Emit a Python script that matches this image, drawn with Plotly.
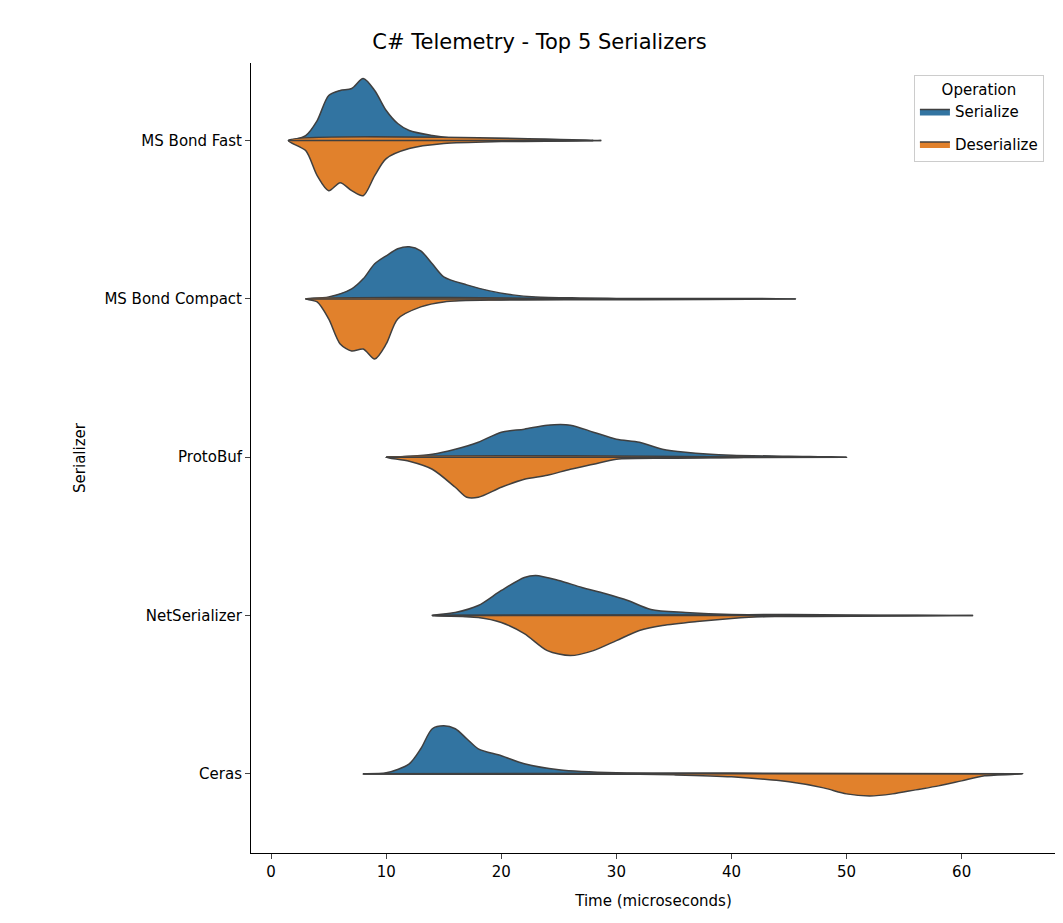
import plotly.graph_objects as go

categories = ["MS Bond Fast", "MS Bond Compact", "ProtoBuf", "NetSerializer", "Ceras"]
# density half-widths (in pixels at 158 px per category)
ser_x = [
    [1.5, 2, 3, 4, 5, 6, 7, 8, 9, 10, 11, 12, 14, 16, 20, 25, 28.7],
    [3, 5, 7, 8, 9, 10, 11, 12, 13, 14, 15, 17, 19, 21, 23, 27, 30, 40, 45.6],
    [10, 12, 14, 16, 18, 20, 22, 24, 26, 28, 30, 32, 34, 36, 40, 45, 50],
    [14, 16, 18, 20, 22, 23, 25, 27, 29, 31, 33, 36, 40, 45, 50, 61],
    [8, 10, 12, 13, 14, 15, 16, 17, 18, 20, 22, 25, 30, 40, 44],
]
ser_h = [
    [0, 1, 5, 20, 45, 50, 52, 62, 50, 30, 17, 10, 5, 2, 1, 0.5, 0],
    [0, 2, 10, 20, 35, 43, 50, 52, 48, 35, 22, 14, 8, 4, 2, 1, 0.5, 0.5, 0],
    [0, 1, 3, 8, 15, 25, 28, 32, 32, 25, 18, 15, 8, 5, 2, 1, 0],
    [0, 3, 10, 25, 38, 40, 35, 28, 22, 15, 6, 3, 1, 1, 0.5, 0],
    [0, 1, 10, 25, 45, 48, 45, 35, 25, 18, 10, 4, 1, 0.5, 0],
]
des_x = [
    [1.5, 3, 4, 5, 6, 7, 8, 9, 10, 12, 15, 20, 28],
    [3, 4, 5, 6, 7, 8, 9, 10, 11, 13, 15, 20, 28],
    [10, 12, 14, 16, 17, 18, 20, 22, 24, 26, 28, 30, 35, 42],
    [14, 18, 20, 22, 24, 26, 28, 30, 32, 34, 37, 40, 43, 48],
    [8, 30, 35, 40, 45, 48, 50, 52, 54, 56, 58, 60, 62, 65.3],
]
des_h = [
    [0, 10, 35, 50, 42, 50, 55, 35, 18, 8, 3, 1, 0],
    [0, 3, 20, 45, 52, 50, 60, 45, 20, 8, 3, 1, 0],
    [0, 4, 12, 30, 40, 40, 30, 22, 18, 12, 7, 2, 1, 0],
    [0, 2, 7, 18, 35, 40, 35, 25, 15, 10, 6, 3, 1, 0],
    [0, 0, 1, 3, 8, 14, 20, 22, 20, 16, 12, 7, 2, 0],
]
series = ["Serialize", "Deserialize"]
colors = ["#3274A1", "#E1812C"]
PX = 158.0

fig = go.Figure()
for si, (xs_all, hs_all) in enumerate([(ser_x, ser_h), (des_x, des_h)]):
    sign = -1 if si == 0 else 1
    for i in range(len(categories)):
        xs, hs = xs_all[i], hs_all[i]
        ys = [i + sign * h / PX for h in hs]
        fig.add_trace(go.Scatter(x=xs + [xs[0]], y=ys + [i], mode="lines", fill="toself",
                                 fillcolor=colors[si],
                                 line=dict(color="#3f3f3f", width=1.5, shape="spline", smoothing=0.8),
                                 name=series[si], legendgroup=series[si], showlegend=(i == 0),
                                 hoverinfo="skip"))
        fig.add_trace(go.Scatter(x=[xs[0], xs[-1]], y=[i, i], mode="lines",
                                 line=dict(color="#3f3f3f", width=1.5), showlegend=False,
                                 hoverinfo="skip"))

fig.update_layout(
    width=1063, height=923, plot_bgcolor="white", paper_bgcolor="white",
    font=dict(family="DejaVu Sans", size=15, color="black"),
    margin=dict(l=243, r=15, t=55, b=78),
    title=dict(text="C# Telemetry - Top 5 Serializers", x=0.5, xanchor="center", y=0.972,
               font=dict(size=21)),
    legend=dict(title=dict(text="Operation", side="top center", font=dict(size=15)),
                x=0.985, xanchor="right", y=0.985, yanchor="top", bordercolor="#cccccc",
                borderwidth=1, bgcolor="rgba(255,255,255,0.8)", font=dict(size=15)),
)
fig.update_xaxes(range=[-1.75, 68.2], tickvals=[0, 10, 20, 30, 40, 50, 60], showgrid=False,
                 zeroline=False, showline=True, linecolor="black", ticks="outside",
                 tickfont=dict(size=15), title=dict(text="Time (microseconds)", font=dict(size=15)))
fig.update_yaxes(range=[4.5, -0.49], tickvals=list(range(5)), ticktext=categories,
                 showgrid=False, zeroline=False, showline=True, linecolor="black",
                 ticks="outside", tickfont=dict(size=15),
                 title=dict(text="Serializer", font=dict(size=15)))
fig.write_html("out.html")
